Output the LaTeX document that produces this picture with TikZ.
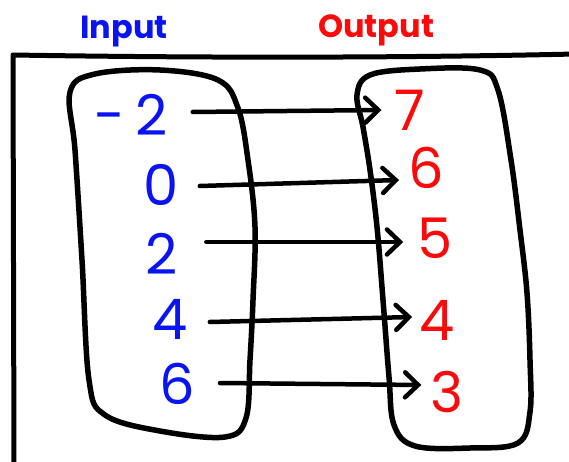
\documentclass[tikz,border=0pt]{standalone}
\usepackage{fontspec}
\setmainfont{Poppins}
\usetikzlibrary{arrows.meta}
\definecolor{inblue}{RGB}{10,20,240}
\definecolor{outred}{RGB}{250,10,10}
\tikzset{
  ink/.style={line width=5pt, line cap=round, line join=round},
  blob/.style={ink, line width=5.5pt},
  innum/.style={text=inblue, inner sep=0pt, font=\fontsize{56}{58}\selectfont},
  outnum/.style={text=outred, inner sep=0pt, font=\fontsize{56}{58}\selectfont},
  heading/.style={inner sep=0pt, font=\bfseries\fontsize{32}{34}\selectfont},
  maparrow/.style={ink, line width=4.5pt, -{Straight Barb[length=13pt,width=25pt,line width=4.5pt,line cap=round]}}
}
\begin{document}
\begin{tikzpicture}[x=1pt,y=-1pt]
  \useasboundingbox (0,0) rectangle (569,462);

  % headings
  \node[heading, text=inblue] (hin) at (124,32) {Input};
  \node[heading, text=outred] (hout) at (376,30) {Output};

  % outer frame
  \draw[ink] (14,470) -- (13,55) .. controls (200,58) and (400,58) .. (575,54);

  % domain and range blobs
  \draw[blob] plot[smooth cycle, tension=0.6] coordinates {
    (70,92) (95,74) (160,70) (218,80) (238,108) (248,160) (255,227)
    (253,300) (250,360) (246,418) (225,437) (160,431) (105,415) (89,380)
    (82,260) (75,150)};
  \draw[blob] plot[smooth cycle, tension=0.6] coordinates {
    (357,95) (370,75) (420,69) (480,70) (498,90) (511,160) (520,230)
    (527,293) (530,360) (530,412) (518,443) (470,448) (415,446) (394,425)
    (389,377) (383,300) (377,227) (370,170) (363,127)};

  % inputs
  \node[innum] (i1) at (131,115) {-\hspace{10pt}2};
  \node[innum] (i2) at (161,185) {0};
  \node[innum] (i3) at (162,254) {2};
  \node[innum] (i4) at (170,319) {4};
  \node[innum] (i5) at (177,384) {6};

  % outputs
  \node[outnum] (o1) at (410,110) {7};
  \node[outnum] (o2) at (426,168) {6};
  \node[outnum] (o3) at (435,238) {5};
  \node[outnum] (o4) at (437,320) {4};
  \node[outnum] (o5) at (447,392) {3};

  % mapping arrows (shifts are in page direction: positive yshift is up)
  \draw[maparrow] ([xshift=25pt,yshift=3pt]i1.east) -- ([xshift=-13pt]o1.west);
  \draw[maparrow] ([xshift=21pt,yshift=-1pt]i2.east) -- ([xshift=-9pt,yshift=-12pt]o2.west);
  \draw[maparrow] ([xshift=28pt,yshift=12pt]i3.east) -- ([xshift=-14pt,yshift=-4pt]o3.west);
  \draw[maparrow] ([xshift=22pt,yshift=-3pt]i4.east) -- ([xshift=-7pt,yshift=3pt]o4.west);
  \draw[maparrow] ([xshift=25pt,yshift=1pt]i5.east) -- ([xshift=-9pt,yshift=7pt]o5.west);
\end{tikzpicture}
\end{document}
